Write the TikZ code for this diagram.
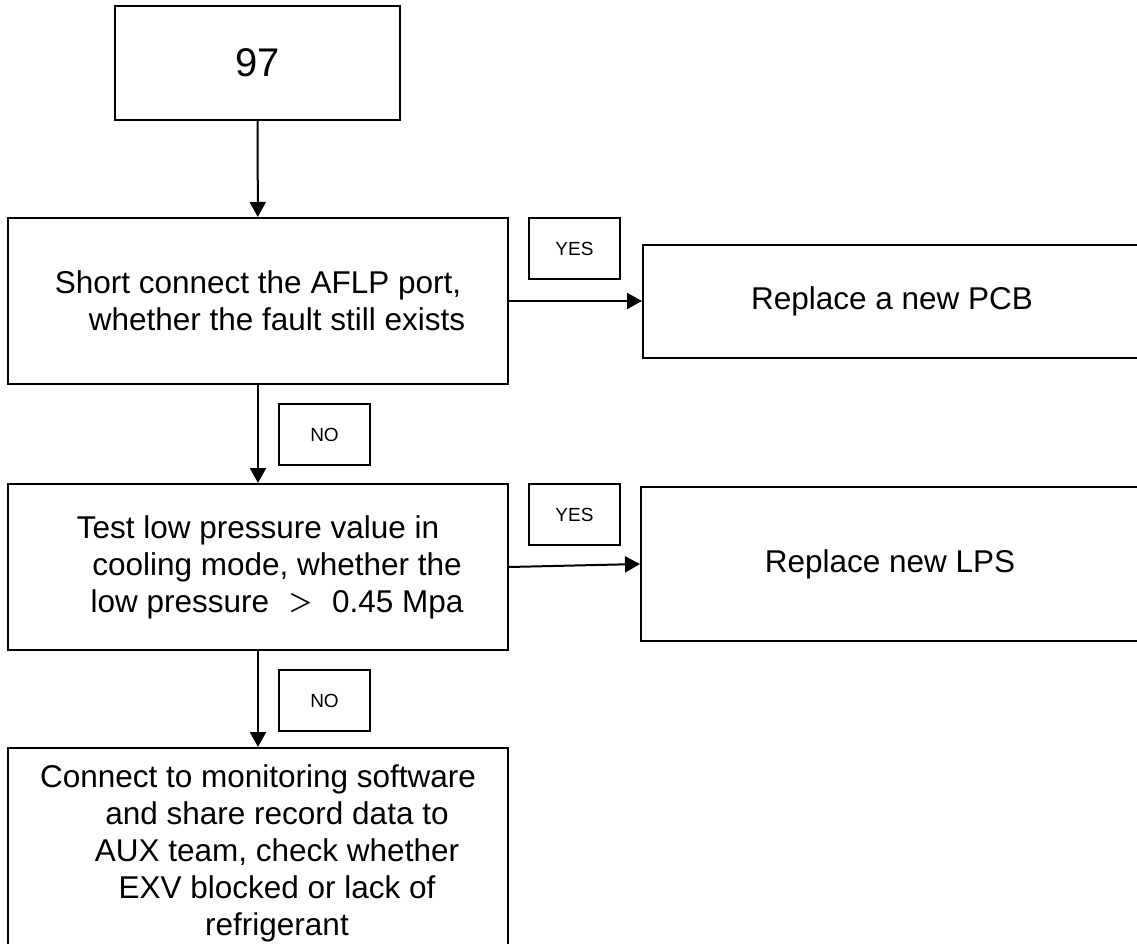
\documentclass[tikz,border=0pt]{standalone}
\usepackage{fontspec}
\setmainfont{Liberation Sans}
\newfontfamily\cjk{Noto Sans CJK SC}
\usepackage{tikz}
\usetikzlibrary{arrows.meta,positioning}

\newcommand{\indl}{\hspace*{38pt}}

\begin{document}
\begin{tikzpicture}[
  x=1pt, y=-1pt,
  box/.style={draw, line width=2pt, align=center, inner sep=0pt, minimum width=500pt,
    font=\fontsize{31.5}{37}\selectfont},
  tag/.style={draw, line width=1.6pt, inner sep=0pt, minimum width=91pt, minimum height=61pt,
    font=\fontsize{19}{22}\selectfont},
  arrow/.style={-{Triangle[length=15pt, width=16pt]}, line width=2pt}
]
\useasboundingbox (0,0) rectangle (1137,944);

\node[box, minimum width=285pt, minimum height=114pt, font=\fontsize{40}{46}\selectfont] (start) at (257.5,63) {97};
\node[box, minimum height=166pt] (chk1) at (258,301) {Short connect the AFLP port,\\\indl whether the fault still exists};
\node[box, minimum width=498pt, minimum height=113pt, right=133pt of chk1] (pcb) {Replace a new PCB};
\node[box, minimum height=166pt] (chk2) at (258,567) {Test low pressure value in\\\indl cooling mode, whether the\\\indl low pressure\hspace{19pt}{\cjk\fontsize{25}{37}\selectfont ＞}\hspace{19pt}0.45 Mpa};
\node[box, minimum width=498pt, minimum height=154pt] (lps) at (890,564) {Replace new LPS};
\node[box, minimum height=211pt] (act) at (258,853.5) {Connect to monitoring software\\\indl and share record data to\\\indl AUX team, check whether\\\indl EXV blocked or lack of\\\indl refrigerant};

\node[tag] (yes1) at (574.5,248.5) {YES};
\node[tag] (no1) at (324.5,434.5) {NO};
\node[tag] (yes2) at (574.5,514.5) {YES};
\node[tag] (no2) at (324.5,700.5) {NO};

\draw[arrow] (start) -- (chk1);
\draw[arrow] (chk1) -- (pcb);
\draw[arrow] (chk1) -- (chk2);
\draw[arrow] (chk2.east) -- (lps.west);
\draw[arrow] (chk2) -- (act);
\end{tikzpicture}
\end{document}
